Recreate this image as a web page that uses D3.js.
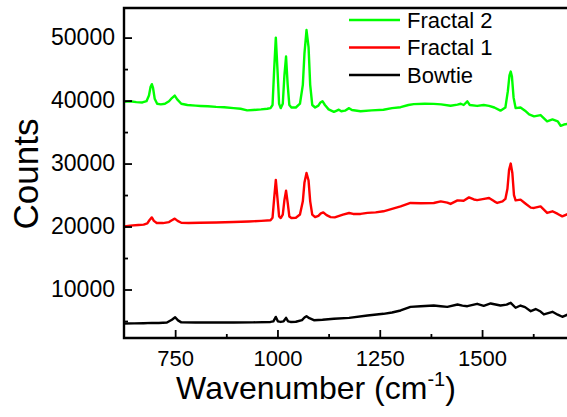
<!DOCTYPE html>
<html>
<head>
<meta charset="utf-8">
<script src="https://cdn.jsdelivr.net/npm/d3@7"></script>
<style>
  body { margin: 0; background: #fff; }
  svg { display: block; font-family: "Liberation Sans", Arial, sans-serif; }
</style>
</head>
<body>
<div id="chart"></div>
<script>
// Raman spectra, [wavenumber, counts]
const fractal2 = [
  [625, 39800], [640, 39900], [655, 39750], [670, 39700], [680, 39900], [686, 40800], [690, 42200], [693, 42600],
  [696, 42000], [700, 40300], [706, 39500], [715, 39400], [725, 39500], [735, 39900], [742, 40400], [749, 40800],
  [755, 40200], [765, 39500], [780, 39300], [800, 39200], [812, 39150], [830, 39100], [850, 39000], [870, 38950],
  [893, 38800], [910, 38700], [926, 38450], [940, 38500], [960, 38600], [975, 38700], [983, 38800], [988, 39300],
  [992, 45000], [996, 50000], [1000, 45000], [1004, 39500], [1008, 38800], [1013, 39500], [1017, 44000], [1021, 47000],
  [1025, 42500], [1029, 39300], [1034, 38900], [1045, 38900], [1055, 39500], [1062, 42500], [1066, 47500], [1071, 51200],
  [1076, 48500], [1080, 42500], [1085, 39300], [1092, 38900], [1100, 39200], [1105, 39700], [1110, 39900], [1116, 39300],
  [1125, 38600], [1138, 38200], [1145, 38400], [1150, 38550], [1156, 38300], [1165, 38400], [1175, 38800], [1182, 38500],
  [1203, 38300], [1230, 38450], [1259, 38550], [1280, 38800], [1301, 38950], [1320, 39300], [1333, 39430], [1360, 39500],
  [1382, 39480], [1400, 39400], [1423, 39170], [1440, 39350], [1448, 39500], [1455, 39300], [1464, 39870], [1470, 39300],
  [1488, 39150], [1504, 39300], [1517, 39150], [1530, 38900], [1545, 38400], [1557, 38900], [1563, 41500], [1567, 44000],
  [1570, 44600], [1573, 43800], [1577, 40500], [1582, 38800], [1594, 38900], [1605, 38400], [1615, 37800], [1627, 37500],
  [1643, 37700], [1659, 36700], [1672, 37000], [1685, 36700], [1692, 36000], [1700, 36200], [1710, 36300]
];

const fractal1 = [
  [625, 20000], [640, 20150], [660, 20250], [673, 20300], [682, 20500], [687, 21000], [693, 21450], [698, 20900],
  [705, 20550], [720, 20550], [735, 20700], [742, 21000], [749, 21250], [756, 20900], [765, 20600], [783, 20570],
  [810, 20600], [850, 20650], [893, 20730], [930, 20800], [960, 20900], [983, 21000], [988, 21400], [992, 24500],
  [996, 27400], [1000, 24500], [1004, 21600], [1008, 21350], [1013, 21900], [1017, 24200], [1021, 25700], [1025, 23800],
  [1029, 21600], [1034, 21350], [1045, 21400], [1055, 21900], [1062, 24000], [1066, 27000], [1071, 28500], [1076, 27300],
  [1080, 24000], [1085, 21900], [1092, 21500], [1100, 21700], [1106, 22100], [1112, 22250], [1120, 21800], [1130, 21500],
  [1140, 21460], [1160, 21900], [1175, 22150], [1185, 22000], [1203, 22000], [1220, 22160], [1240, 22250], [1259, 22420],
  [1280, 22800], [1301, 23200], [1325, 23740], [1350, 23700], [1382, 23740], [1399, 24000], [1415, 23800], [1423, 23590],
  [1440, 24160], [1455, 24100], [1468, 24630], [1480, 24300], [1488, 24200], [1505, 24400], [1517, 24530], [1530, 24000],
  [1537, 23740], [1550, 24000], [1557, 24380], [1562, 26000], [1566, 29000], [1570, 30000], [1574, 28500], [1578, 25000],
  [1582, 24150], [1594, 24270], [1605, 23700], [1619, 23000], [1627, 22950], [1643, 23200], [1659, 22160], [1672, 22420],
  [1685, 22000], [1696, 21620], [1710, 22000]
];

const bowtie = [
  [625, 4600], [650, 4620], [673, 4650], [693, 4700], [710, 4680], [730, 4750], [742, 5200], [750, 5600],
  [757, 5100], [765, 4780], [800, 4750], [850, 4760], [893, 4760], [940, 4780], [983, 4850], [990, 4950],
  [996, 5650], [1001, 4950], [1008, 4850], [1015, 4950], [1021, 5500], [1026, 4950], [1032, 4850], [1045, 4880],
  [1060, 5150], [1066, 5550], [1071, 5770], [1078, 5450], [1089, 5130], [1110, 5200], [1138, 5350], [1175, 5500],
  [1220, 5880], [1259, 6140], [1280, 6350], [1301, 6670], [1325, 7250], [1350, 7350], [1382, 7460], [1399, 7350],
  [1415, 7250], [1440, 7620], [1452, 7450], [1464, 7350], [1488, 7730], [1504, 7400], [1521, 7780], [1545, 7460],
  [1560, 7600], [1570, 7890], [1582, 7100], [1594, 7460], [1605, 7200], [1619, 6560], [1631, 6900], [1643, 6500],
  [1651, 6040], [1672, 6460], [1685, 6000], [1696, 5670], [1710, 6040]
];

const seriesNames = ["Fractal 2", "Fractal 1", "Bowtie"];
const seriesColors = ["#00ff00", "#ff0000", "#000000"];
const seriesData = [fractal2, fractal1, bowtie];

const xTicks = [750, 1000, 1250, 1500];
const xMinorTicks = [875, 1125, 1375, 1625];
const yTicks = [10000, 20000, 30000, 40000, 50000];
const yMinorTicks = [5000, 15000, 25000, 35000, 45000];

const W = 567, H = 417;
const plotLeft = 124, plotTop = 8, plotBottom = 338, plotRight = 568;

const svg = d3.select("#chart").append("svg")
  .attr("width", W)
  .attr("height", H);

const x = d3.scaleLinear().domain([625, 1710]).range([plotLeft, plotRight]);
const y = d3.scaleLinear().domain([2300, 54700]).range([plotBottom, plotTop]);

svg.append("clipPath").attr("id", "clip")
  .append("rect")
  .attr("x", plotLeft).attr("y", plotTop)
  .attr("width", plotRight - plotLeft).attr("height", plotBottom - plotTop);

const line = d3.line()
  .x(d => x(d[0]))
  .y(d => y(d[1]));

// spectra, black first so colours sit on top
[2, 1, 0].forEach(i => {
  svg.append("path")
    .datum(seriesData[i])
    .attr("clip-path", "url(#clip)")
    .attr("fill", "none")
    .attr("stroke", seriesColors[i])
    .attr("stroke-width", 2.4)
    .attr("stroke-linejoin", "round")
    .attr("d", line);
});

// Axes (domain lines drawn separately below)
const xAxis = svg.append("g")
  .attr("transform", `translate(0,${plotBottom})`)
  .call(d3.axisBottom(x).tickValues(xTicks).tickSizeInner(-8).tickSizeOuter(0)
    .tickPadding(12).tickFormat(d3.format("d")));
xAxis.select(".domain").remove();
xAxis.selectAll(".tick line").attr("stroke", "#000").attr("stroke-width", 1.8);
xAxis.selectAll("text")
  .attr("font-size", "22px")
  .attr("font-family", "Liberation Sans, Arial, sans-serif")
  .attr("fill", "#000");

svg.append("g")
  .attr("transform", `translate(0,${plotBottom})`)
  .call(d3.axisBottom(x).tickValues(xMinorTicks).tickSizeInner(-4).tickSizeOuter(0).tickFormat(""))
  .call(g => g.select(".domain").remove())
  .selectAll(".tick line").attr("stroke", "#000").attr("stroke-width", 1.8);

const yAxis = svg.append("g")
  .attr("transform", `translate(${plotLeft},0)`)
  .call(d3.axisLeft(y).tickValues(yTicks).tickSizeInner(-8).tickSizeOuter(0)
    .tickPadding(9).tickFormat(d3.format("d")));
yAxis.select(".domain").remove();
yAxis.selectAll(".tick line").attr("stroke", "#000").attr("stroke-width", 1.8);
yAxis.selectAll("text")
  .attr("font-size", "23px")
  .attr("font-family", "Liberation Sans, Arial, sans-serif")
  .attr("fill", "#000");

svg.append("g")
  .attr("transform", `translate(${plotLeft},0)`)
  .call(d3.axisLeft(y).tickValues(yMinorTicks).tickSizeInner(-4).tickSizeOuter(0).tickFormat(""))
  .call(g => g.select(".domain").remove())
  .selectAll(".tick line").attr("stroke", "#000").attr("stroke-width", 1.8);

// frame: left, bottom, top
svg.append("path")
  .attr("d", `M${W},${plotTop}H${plotLeft}V${plotBottom}H${W}`)
  .attr("fill", "none")
  .attr("stroke", "#000")
  .attr("stroke-width", 2.4)
  .attr("stroke-linecap", "square");

// Axis titles
svg.append("text")
  .attr("transform", "translate(38,174) rotate(-90)")
  .attr("text-anchor", "middle")
  .attr("font-size", "35px")
  .text("Counts");

const xt = svg.append("text")
  .attr("x", 316).attr("y", 399)
  .attr("text-anchor", "middle")
  .attr("font-size", "32px");
xt.append("tspan").text("Wavenumber (cm");
xt.append("tspan").attr("font-size", "20px").attr("dy", -13).text("-1");
xt.append("tspan").attr("dy", 13).text(")");

// Legend
const legend = svg.append("g");
seriesNames.forEach((name, i) => {
  const ly = 20 + i * 27.5;
  legend.append("line")
    .attr("x1", 349).attr("x2", 400)
    .attr("y1", ly).attr("y2", ly)
    .attr("stroke", seriesColors[i])
    .attr("stroke-width", 2.4);
  legend.append("text")
    .attr("x", 407).attr("y", ly + 7.5)
    .attr("font-size", "22px")
    .text(name);
});
</script>
</body>
</html>
